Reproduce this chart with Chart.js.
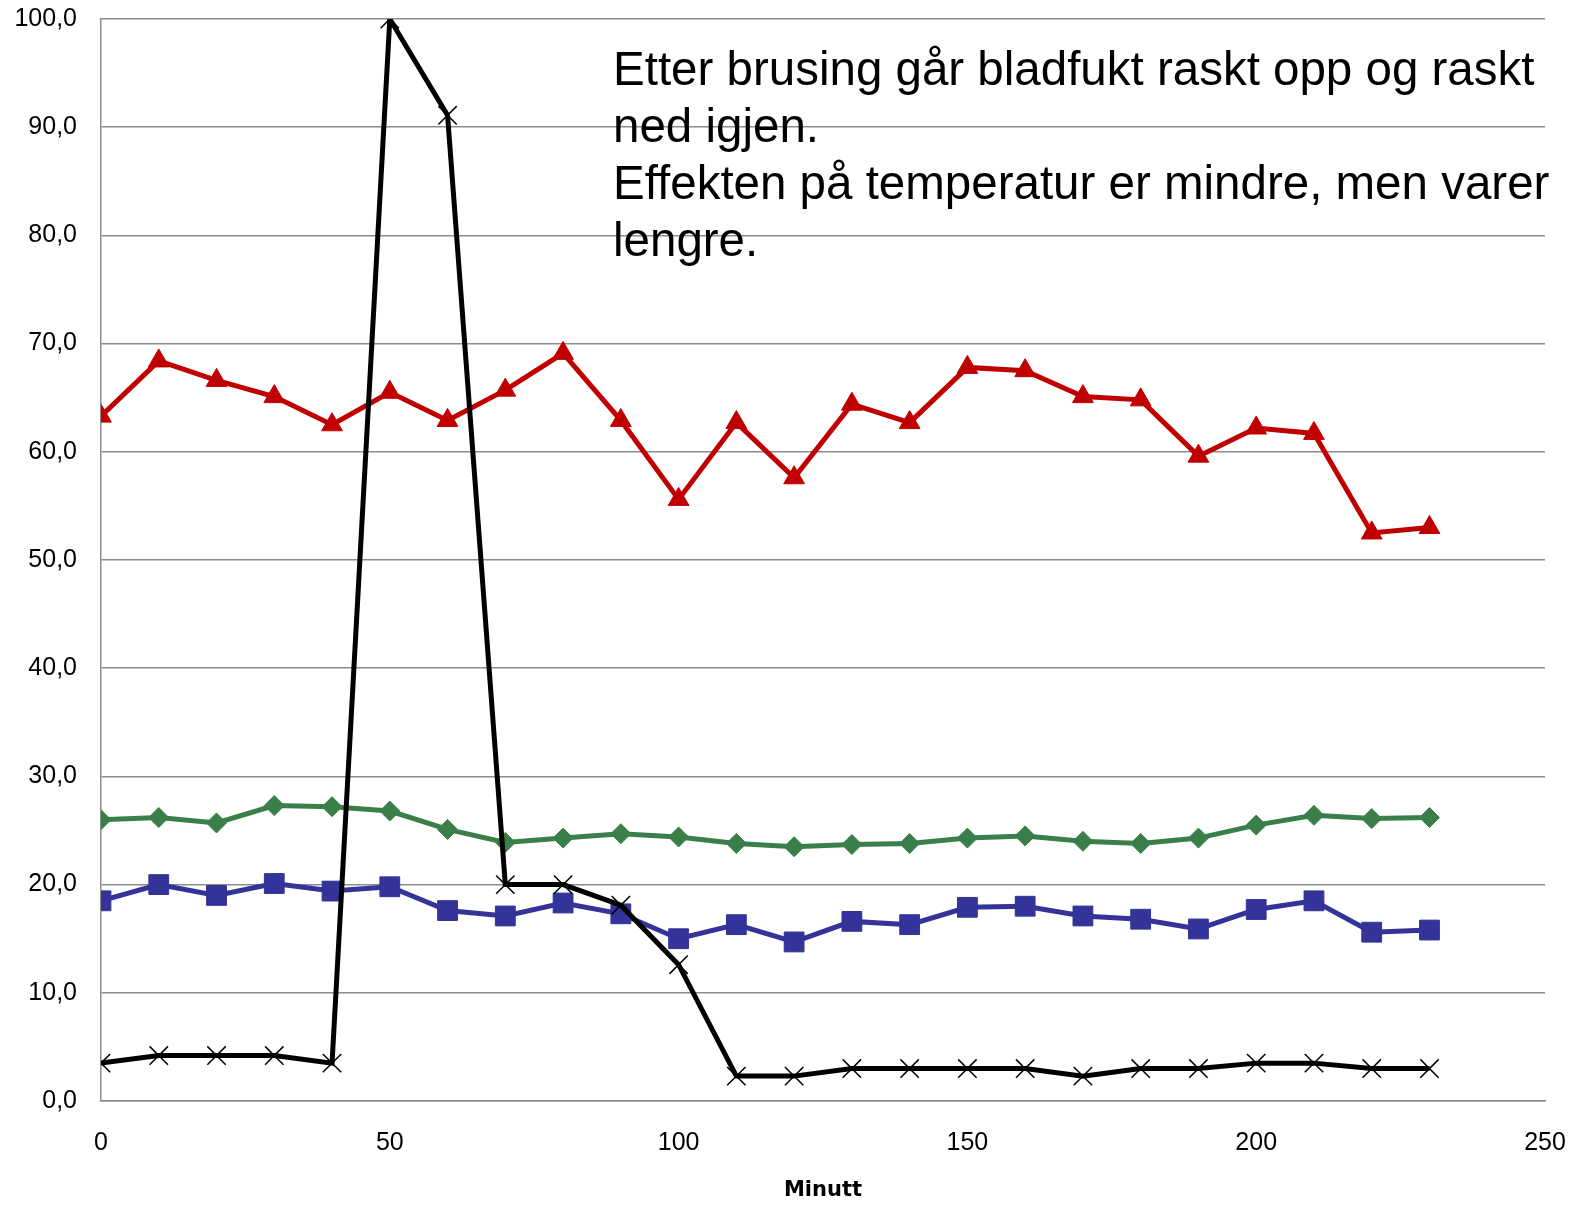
<!DOCTYPE html>
<html>
<head>
<meta charset="utf-8">
<style>
  html, body { margin: 0; padding: 0; background: #ffffff; }
  #wrap { width: 1576px; height: 1210px; position: relative; }
</style>
<script src="https://cdn.jsdelivr.net/npm/chart.js@4/dist/chart.umd.min.js"></script>
</head>
<body>
<div id="wrap"><canvas id="chart" width="1576" height="1210"></canvas></div>
<script>
const minutes   = [0, 10, 20, 30, 40, 50, 60, 70, 80, 90, 100, 110, 120, 130, 140, 150, 160, 170, 180, 190, 200, 210, 220, 230];
const redVals   = [63.3, 68.4, 66.6, 65.1, 62.5, 65.5, 62.9, 65.7, 69.1, 62.9, 55.6, 62.7, 57.6, 64.4, 62.7, 67.8, 67.5, 65.1, 64.8, 59.6, 62.2, 61.7, 52.5, 53.0];
const greenVals = [26.0, 26.2, 25.7, 27.3, 27.2, 26.8, 25.1, 23.9, 24.3, 24.7, 24.4, 23.8, 23.5, 23.7, 23.8, 24.3, 24.5, 24.0, 23.8, 24.3, 25.5, 26.4, 26.1, 26.2];
const blueVals  = [18.5, 20.0, 19.0, 20.1, 19.4, 19.8, 17.6, 17.1, 18.3, 17.3, 15.0, 16.3, 14.7, 16.6, 16.3, 17.9, 18.0, 17.1, 16.8, 15.9, 17.7, 18.5, 15.6, 15.8];
const blackVals = [3.5, 4.2, 4.2, 4.2, 3.5, 100.0, 91.1, 20.0, 20.0, 18.1, 12.6, 2.3, 2.3, 3.0, 3.0, 3.0, 3.0, 2.3, 3.0, 3.0, 3.5, 3.5, 3.0, 3.0];

const noteLines = [
  "Etter brusing går bladfukt raskt opp og raskt",
  "ned igjen.",
  "Effekten på temperatur er mindre, men varer",
  "lengre."
];

const pts = vals => vals.map((v, i) => ({ x: minutes[i], y: v }));
const FONT = "'Liberation Sans', Arial, sans-serif";

const notePlugin = {
  id: "note",
  afterDraw(chart) {
    const c = chart.ctx;
    c.save();
    c.fillStyle = "#000000";
    c.font = "47.5px " + FONT;
    c.textBaseline = "middle";
    c.textAlign = "left";
    noteLines.forEach((line, i) => c.fillText(line, 613, 72 + i * 57));
    c.restore();
  }
};

const ctx = document.getElementById("chart").getContext("2d");

new Chart(ctx, {
  type: "line",
  data: {
    datasets: [
      {
        data: pts(blackVals),
        borderColor: "#000000",
        borderWidth: 5,
        pointStyle: "crossRot",
        pointRadius: 13,
        pointBorderWidth: 1.5,
        pointBorderColor: "#000000",
        pointBackgroundColor: "#000000"
      },
      {
        data: pts(redVals),
        borderColor: "#c00000",
        borderWidth: 5,
        pointStyle: "triangle",
        pointRadius: 12,
        pointBorderWidth: 1,
        pointBorderColor: "#c00000",
        pointBackgroundColor: "#c00000"
      },
      {
        data: pts(greenVals),
        borderColor: "#3a7f4a",
        borderWidth: 5,
        pointStyle: "rectRot",
        pointRadius: 10,
        pointBorderWidth: 1,
        pointBorderColor: "#3a7f4a",
        pointBackgroundColor: "#3a7f4a"
      },
      {
        data: pts(blueVals),
        borderColor: "#333399",
        borderWidth: 5,
        pointStyle: "rect",
        pointRadius: 14,
        pointBorderWidth: 1,
        pointBorderColor: "#333399",
        pointBackgroundColor: "#333399"
      }
    ]
  },
  options: {
    responsive: false,
    animation: false,
    layout: { padding: { top: 19, right: 31, left: 0, bottom: 0 } },
    plugins: {
      legend: { display: false },
      tooltip: { enabled: false }
    },
    scales: {
      x: {
        type: "linear",
        min: 0,
        max: 250,
        grid: { display: false, drawTicks: false },
        border: { display: true, color: "#8c8c8c", width: 1.5 },
        ticks: {
          stepSize: 50,
          color: "#000000",
          padding: 27,
          font: { family: FONT, size: 25 }
        },
        title: {
          display: true,
          text: "Minutt",
          color: "#000000",
          padding: { top: 0, bottom: 7 },
          font: { family: "'DejaVu Sans', sans-serif", size: 21, weight: "bold" }
        },
        afterFit: scale => {
          scale.height = 109;
          scale.paddingLeft = 0;
          scale.paddingRight = 0;
        }
      },
      y: {
        min: 0,
        max: 100,
        grid: { color: "#8c8c8c", lineWidth: 1.5, drawTicks: false },
        border: { display: true, color: "#8c8c8c", width: 1.5 },
        ticks: {
          stepSize: 10,
          color: "#000000",
          padding: 24,
          font: { family: FONT, size: 25 },
          callback: v => v.toFixed(1).replace(".", ",")
        },
        afterFit: scale => {
          scale.width = 101;
          scale.paddingTop = 0;
          scale.paddingBottom = 0;
        }
      }
    }
  },
  plugins: [notePlugin]
});
</script>
</body>
</html>
